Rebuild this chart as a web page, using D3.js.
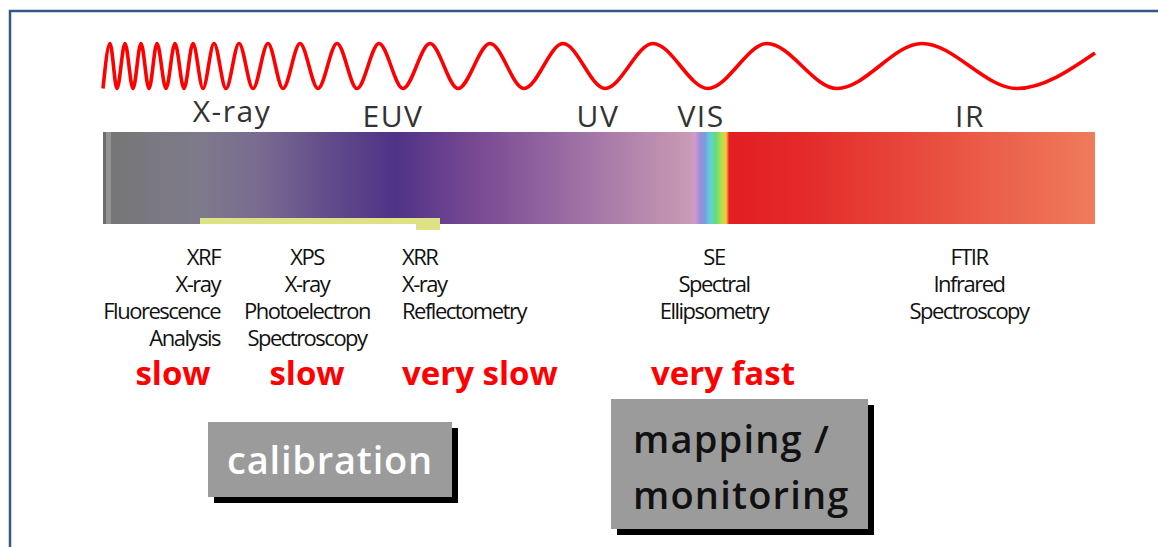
<!DOCTYPE html>
<html>
<head>
<meta charset="utf-8">
<script src="https://d3js.org/d3.v7.min.js"></script>
<style>
  body { margin: 0; background: #fff; }
  svg { display: block; }
</style>
</head>
<body>
<div id="chart"></div>
<script>
// wave extrema along the spectrum (offset in px from band start), -1 = trough, 1 = peak
var waveX = [0,7,14,22,30,38,46,54,63,72,81,90,100,111,123,136,150,165,180,197,215,234,254,276,300,327,355,387,421,460,502,550,605,664,734,819,914,992];
var waveY = [-1,1,-1,1,-1,1,-1,1,-1,1,-1,1,-1,1,-1,1,-1,1,-1,1,-1,1,-1,1,-1,1,-1,1,-1,1,-1,1,-1,1,-1,1,-1,0.58];

// spectrum band colour stops
var stopPos = [0,3,3,8,8,97,157,227,292,377,497,587,592,597,602,607,613,619,623,625,626,700,992];
var stopColor = ["#6c6c6c","#6c6c6c","#939393","#939393","#767676","#7e7a8b","#786b90","#624b8b","#4f3387","#7a4a93",
                 "#a679a8","#c99ab4","#d39acc","#9a8fd8","#7a9ce0","#62cfd8","#62dc7a","#b8e04a","#f2c93a","#ee6a2a","#e31e24","#e32a28","#f07b5c"];

// region labels above the band
var regions = ["X-ray","EUV","UV","VIS","IR"];
var regionPos = [129,290,495,598,867];

// techniques under the band
var methods = ["XRF","XPS","XRR","SE","FTIR"];
var methodLines = [
  ["X-ray","Fluorescence","Analysis"],
  ["X-ray","Photoelectron","Spectroscopy"],
  ["X-ray","Reflectometry"],
  ["Spectral","Ellipsometry"],
  ["Infrared","Spectroscopy"]
];
var methodPos = [117,204,299,611,866];
var methodAnchor = ["end","middle","start","middle","middle"];

var speeds = ["slow","slow","very slow","very fast"];
var speedPos = [70,204,299,620];
var speedAnchor = ["middle","middle","start","middle"];

// x-ray range marker
var xrayRange = [97,337];

var W = 1158, H = 547;
var svg = d3.select("#chart").append("svg").attr("width", W).attr("height", H);

var x = d3.scaleLinear().domain([0, 992]).range([103, 1095]);
var y = d3.scaleLinear().domain([-1, 1]).range([88.5, 43.5]);

// frame
svg.append("rect")
  .attr("x", 10).attr("y", 11).attr("width", 1300).attr("height", 700)
  .attr("fill", "none").attr("stroke", "#2e5a86").attr("stroke-width", 2.5);

// wave
var pts = waveX.map(function(d, i) { return [d, waveY[i]]; });
var line = d3.line()
  .x(function(d) { return x(d[0]); })
  .y(function(d) { return y(d[1]); })
  .curve(d3.curveMonotoneX);
svg.append("path").attr("d", line(pts))
  .attr("fill", "none").attr("stroke", "#ff0000").attr("stroke-width", 3.6);

// band
var defs = svg.append("defs");
var grad = defs.append("linearGradient").attr("id", "spec")
  .attr("gradientUnits", "userSpaceOnUse")
  .attr("x1", x(0)).attr("x2", x(992)).attr("y1", 0).attr("y2", 0);
stopPos.forEach(function(p, i) {
  grad.append("stop").attr("offset", p / 992).attr("stop-color", stopColor[i]);
});
svg.append("rect")
  .attr("x", x(0)).attr("y", 132).attr("width", x(992) - x(0)).attr("height", 92)
  .attr("fill", "url(#spec)");

// yellow marker
svg.append("rect")
  .attr("x", x(xrayRange[0])).attr("y", 218)
  .attr("width", x(xrayRange[1]) - x(xrayRange[0])).attr("height", 6)
  .attr("fill", "#dde384");
svg.append("rect")
  .attr("x", x(xrayRange[1]) - 24).attr("y", 218)
  .attr("width", 24).attr("height", 12)
  .attr("fill", "#dde384");

// region labels
svg.selectAll(".region").data(regions).enter().append("text")
  .attr("x", function(d, i) { return x(regionPos[i]); })
  .attr("y", function(d, i) { return i == 0 ? 122 : 127; })
  .attr("text-anchor", "middle")
  .style("font-family", "'Open Sans', sans-serif")
  .style("font-size", "30px")
  .style("letter-spacing", "1.5px")
  .attr("fill", "#333")
  .text(function(d) { return d; });

// methods
methods.forEach(function(m, i) {
  var t = svg.append("text")
    .attr("text-anchor", methodAnchor[i])
    .style("font-family", "'Open Sans', sans-serif")
    .style("font-size", "22px")
    .style("letter-spacing", "-1.5px")
    .attr("fill", "#111");
  [m].concat(methodLines[i]).forEach(function(s, j) {
    t.append("tspan").attr("x", x(methodPos[i])).attr("y", 265 + j * 27).text(s);
  });
});

// speeds
svg.selectAll(".speed").data(speeds).enter().append("text")
  .attr("x", function(d, i) { return x(speedPos[i]); })
  .attr("y", 385)
  .attr("text-anchor", function(d, i) { return speedAnchor[i]; })
  .style("font-family", "'Open Sans', sans-serif")
  .style("font-size", "33px")
  .style("font-weight", "bold")
  .attr("fill", "#ff0000")
  .text(function(d) { return d; });

// boxes
function box(x0, y0, w, h) {
  svg.append("rect").attr("x", x0 + 6).attr("y", y0 + 6).attr("width", w).attr("height", h).attr("fill", "#000");
  svg.append("rect").attr("x", x0).attr("y", y0).attr("width", w).attr("height", h).attr("fill", "#9b9b9b");
}
box(208, 422, 244, 75);
svg.append("text").attr("x", 330).attr("y", 474).attr("text-anchor", "middle")
  .style("font-family", "'Open Sans', sans-serif").style("font-size", "38px")
  .style("font-weight", 600).style("letter-spacing", "0.8px")
  .attr("fill", "#fff").text("calibration");

box(611, 399, 257, 130);
var mt = svg.append("text")
  .style("font-family", "'Open Sans', sans-serif").style("font-size", "38px")
  .style("font-weight", 600).style("letter-spacing", "1.2px")
  .attr("fill", "#111");
mt.append("tspan").attr("x", 633).attr("y", 453).text("mapping /");
mt.append("tspan").attr("x", 633).attr("y", 509).text("monitoring");
</script>
</body>
</html>
